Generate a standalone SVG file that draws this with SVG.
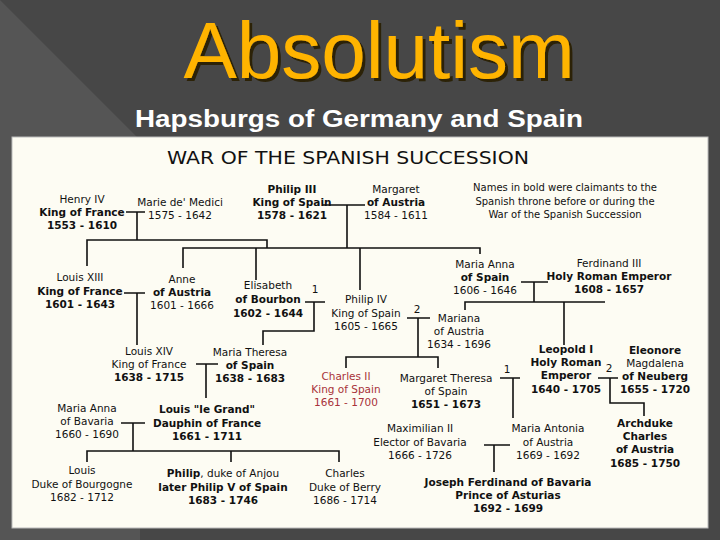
<svg xmlns="http://www.w3.org/2000/svg" width="720" height="540" viewBox="0 0 720 540">
<defs>
<filter id="sh" x="-10%" y="-10%" width="130%" height="130%"><feDropShadow dx="3" dy="3" stdDeviation="0.6" flood-color="#2a1e00" flood-opacity="0.9"/></filter>
</defs>
<style>
text{font-family:"DejaVu Sans",Verdana,sans-serif;font-size:10.5px;fill:#111;text-anchor:middle}
.b{font-weight:bold}
.red{fill:#a8323a}
.n{font-size:10px}
#connectors path{fill:none;stroke:#111;stroke-width:1.6}
</style>
<rect width="720" height="540" fill="#474747"/>
<polygon points="0,0 140,140 140,540 0,540" fill="#555"/>
<rect x="12" y="137" width="696" height="391" fill="#fdfcf3" stroke="#bbb" stroke-width="1"/>
<text x="379" y="78" filter="url(#sh)" style="font-family:'Liberation Sans',Arial,sans-serif;font-size:80px;fill:#ffb400">Absolutism</text>
<text x="359" y="127" textLength="448" lengthAdjust="spacingAndGlyphs" style="font-family:'Liberation Sans',Arial,sans-serif;font-size:23px;font-weight:bold;fill:#fff">Hapsburgs of Germany and Spain</text>
<text x="348" y="164" textLength="362" lengthAdjust="spacingAndGlyphs" style="font-size:17px">WAR OF THE SPANISH SUCCESSION</text>

<g id="connectors">
<path d="M126,212H145M137,212V240M87,266V240H267V248M183,268V248H480V254M256,248V280M360,248V290"/>
<path d="M322,205H365M347,205V248"/>
<path d="M124,293H145M137,293V345"/>
<path d="M305,302H325M314,302V331H263V345"/>
<path d="M407,318H430M418,318V357M346,368V357H438V368"/>
<path d="M521,282H548M534,282V302M465,310V302H605M564,302V345"/>
<path d="M196,364H218M206,364V398"/>
<path d="M500,378H520M513,378V418"/>
<path d="M598,378H618M610,378V403H644V416"/>
<path d="M121,423H145M133,423V451M87,462V451H339V462M231,451V462"/>
<path d="M484,445H510M494,445V472"/>
</g>

<g id="henry"><text x="82" y="203">Henry IV</text><text x="82" y="216" class="b">King of France</text><text x="82" y="229" class="b">1553 - 1610</text></g>
<g id="marie"><text x="180" y="206">Marie de' Medici</text><text x="180" y="219">1575 - 1642</text></g>
<g id="philip3"><text x="292" y="193" class="b">Philip III</text><text x="292" y="206" class="b">King of Spain</text><text x="292" y="219" class="b">1578 - 1621</text></g>
<g id="margaret"><text x="396" y="193">Margaret</text><text x="396" y="206" class="b">of Austria</text><text x="396" y="219">1584 - 1611</text></g>
<g id="note"><text x="565" y="191" class="n">Names in bold were claimants to the</text><text x="565" y="205" class="n">Spanish throne before or during the</text><text x="565" y="218" class="n">War of the Spanish Succession</text></g>

<g id="louis13"><text x="80" y="281">Louis XIII</text><text x="80" y="295" class="b">King of France</text><text x="80" y="308" class="b">1601 - 1643</text></g>
<g id="anne"><text x="182" y="283">Anne</text><text x="182" y="296" class="b">of Austria</text><text x="182" y="309">1601 - 1666</text></g>
<g id="elisabeth"><text x="268" y="289">Elisabeth</text><text x="268" y="303" class="b">of Bourbon</text><text x="268" y="317" class="b">1602 - 1644</text></g>
<text x="315" y="293">1</text>
<g id="philip4"><text x="366" y="303">Philip IV</text><text x="366" y="317">King of Spain</text><text x="366" y="330">1605 - 1665</text></g>
<text x="417" y="313">2</text>
<g id="mariana"><text x="459" y="322">Mariana</text><text x="459" y="335">of Austria</text><text x="459" y="348">1634 - 1696</text></g>
<g id="mariaanna"><text x="485" y="268">Maria Anna</text><text x="485" y="281" class="b">of Spain</text><text x="485" y="294">1606 - 1646</text></g>
<g id="ferdinand"><text x="609" y="267">Ferdinand III</text><text x="609" y="280" class="b">Holy Roman Emperor</text><text x="609" y="293" class="b">1608 - 1657</text></g>

<g id="louis14"><text x="149" y="355">Louis XIV</text><text x="149" y="368">King of France</text><text x="149" y="381" class="b">1638 - 1715</text></g>
<g id="mariatheresa"><text x="250" y="356">Maria Theresa</text><text x="250" y="369" class="b">of Spain</text><text x="250" y="382" class="b">1638 - 1683</text></g>
<g id="charles2"><text x="346" y="380" class="red">Charles II</text><text x="346" y="393" class="red">King of Spain</text><text x="346" y="406" class="red">1661 - 1700</text></g>
<g id="margarettheresa"><text x="446" y="382">Margaret Theresa</text><text x="446" y="395">of Spain</text><text x="446" y="408" class="b">1651 - 1673</text></g>
<text x="507" y="373">1</text>
<g id="leopold"><text x="566" y="353" class="b">Leopold I</text><text x="566" y="366" class="b">Holy Roman</text><text x="566" y="379" class="b">Emperor</text><text x="566" y="393" class="b">1640 - 1705</text></g>
<text x="609" y="372">2</text>
<g id="eleonore"><text x="655" y="354" class="b">Eleonore</text><text x="655" y="367">Magdalena</text><text x="655" y="380" class="b">of Neuberg</text><text x="655" y="393" class="b">1655 - 1720</text></g>

<g id="mariaannab"><text x="87" y="412">Maria Anna</text><text x="87" y="425">of Bavaria</text><text x="87" y="438">1660 - 1690</text></g>
<g id="louisgrand"><text x="207" y="413" class="b">Louis "le Grand"</text><text x="207" y="427" class="b">Dauphin of France</text><text x="207" y="440" class="b">1661 - 1711</text></g>
<g id="maximilian"><text x="420" y="432">Maximilian II</text><text x="420" y="446">Elector of Bavaria</text><text x="420" y="459">1666 - 1726</text></g>
<g id="mariaantonia"><text x="548" y="432">Maria Antonia</text><text x="548" y="446">of Austria</text><text x="548" y="459">1669 - 1692</text></g>
<g id="archduke"><text x="645" y="427" class="b">Archduke</text><text x="645" y="440" class="b">Charles</text><text x="645" y="453" class="b">of Austria</text><text x="645" y="467" class="b">1685 - 1750</text></g>

<g id="louisb"><text x="82" y="474">Louis</text><text x="82" y="488">Duke of Bourgogne</text><text x="82" y="501">1682 - 1712</text></g>
<g id="philip5"><text x="223" y="477"><tspan class="b">Philip</tspan>, duke of Anjou</text><text x="223" y="491" class="b">later Philip V of Spain</text><text x="223" y="504" class="b">1683 - 1746</text></g>
<g id="charlesb"><text x="345" y="477">Charles</text><text x="345" y="491">Duke of Berry</text><text x="345" y="504">1686 - 1714</text></g>
<g id="joseph"><text x="508" y="486" class="b">Joseph Ferdinand of Bavaria</text><text x="508" y="499" class="b">Prince of Asturias</text><text x="508" y="512" class="b">1692 - 1699</text></g>
</svg>
